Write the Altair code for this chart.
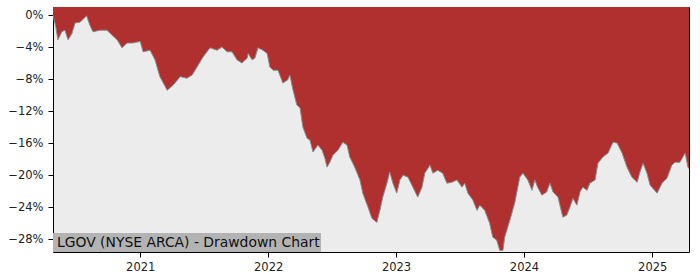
import altair as alt
import pandas as pd

# time positions as decimal years, drawdown in percent
years = [
    2020.320, 2020.344, 2020.359, 2020.388, 2020.414, 2020.438, 2020.469, 2020.492,
    2020.531, 2020.584, 2020.609, 2020.633, 2020.688, 2020.742, 2020.781, 2020.820,
    2020.859, 2020.898, 2020.945, 2021.000, 2021.023, 2021.078, 2021.117, 2021.156,
    2021.211, 2021.258, 2021.313, 2021.367, 2021.406, 2021.445, 2021.492, 2021.547,
    2021.602, 2021.641, 2021.680, 2021.719, 2021.758, 2021.797, 2021.836, 2021.844,
    2021.875, 2021.898, 2021.922, 2021.961, 2021.992, 2022.016, 2022.039, 2022.078,
    2022.117, 2022.156, 2022.172, 2022.195, 2022.227, 2022.250, 2022.273, 2022.305,
    2022.328, 2022.352, 2022.391, 2022.422, 2022.445, 2022.461, 2022.484, 2022.508,
    2022.547, 2022.586, 2022.617, 2022.641, 2022.680, 2022.719, 2022.742, 2022.781,
    2022.813, 2022.852, 2022.875, 2022.898, 2022.930, 2022.953, 2022.977, 2023.008,
    2023.031, 2023.055, 2023.094, 2023.133, 2023.172, 2023.203, 2023.227, 2023.266,
    2023.289, 2023.328, 2023.367, 2023.398, 2023.438, 2023.477, 2023.516, 2023.539,
    2023.563, 2023.602, 2023.633, 2023.656, 2023.695, 2023.734, 2023.758, 2023.789,
    2023.813, 2023.836, 2023.852, 2023.891, 2023.930, 2023.969, 2023.992, 2024.031,
    2024.063, 2024.086, 2024.109, 2024.141, 2024.180, 2024.203, 2024.227, 2024.266,
    2024.305, 2024.336, 2024.359, 2024.383, 2024.414, 2024.438, 2024.461, 2024.492,
    2024.516, 2024.555, 2024.578, 2024.617, 2024.656, 2024.695, 2024.727, 2024.766,
    2024.805, 2024.844, 2024.883, 2024.906, 2024.930, 2024.961, 2024.984, 2025.039,
    2025.078, 2025.117, 2025.156, 2025.180, 2025.219, 2025.258, 2025.281, 2025.289,
]
drawdown_pct = [
    0.0, -1.5, -3.1, -2.1, -1.9, -3.1, -2.3, -1.0,
    -0.9, -0.1, -1.25, -2.1, -1.9, -1.9, -2.5, -3.1,
    -4.1, -3.5, -3.5, -3.3, -4.6, -4.4, -5.6, -7.7,
    -9.4, -8.75, -7.7, -7.9, -7.5, -6.5, -5.25, -4.1,
    -4.4, -4.0, -4.6, -4.6, -5.6, -6.0, -5.4, -4.8,
    -5.6, -5.4, -4.1, -4.4, -4.8, -6.5, -6.9, -6.9,
    -8.5, -8.1, -7.5, -9.4, -11.25, -11.6, -14.0, -15.4,
    -15.6, -17.1, -16.25, -16.9, -17.9, -19.0, -18.4, -17.5,
    -16.9, -15.9, -16.25, -17.75, -19.1, -20.6, -22.25, -24.0,
    -25.4, -25.9, -24.4, -22.75, -21.0, -19.6, -21.0, -22.25,
    -20.6, -20.0, -20.25, -21.5, -22.75, -21.5, -19.75, -18.75,
    -19.75, -19.4, -19.75, -21.0, -20.9, -20.6, -21.5, -21.0,
    -22.25, -23.1, -24.4, -23.75, -24.4, -26.0, -27.75, -28.1,
    -29.4, -29.4, -27.75, -25.6, -23.4, -20.25, -19.75, -20.6,
    -21.9, -20.6, -21.5, -22.5, -22.1, -21.0, -22.1, -22.75,
    -25.25, -25.0, -24.0, -22.9, -23.75, -22.1, -21.5, -21.9,
    -21.0, -20.6, -18.5, -17.75, -17.25, -15.9, -16.0, -17.25,
    -19.0, -20.25, -20.9, -19.6, -18.5, -19.75, -21.25, -22.25,
    -21.0, -20.4, -18.75, -18.4, -18.4, -17.25, -19.0, -19.2,
]
tick_years = [2021, 2022, 2023, 2024, 2025]
y_ticks = [0, -4, -8, -12, -16, -20, -24, -28]
title_text = "LGOV (NYSE ARCA) - Drawdown Chart"


def to_ms(ts):
    return int(ts.value // 10**6)


def year_to_ms(t):
    y = int(t)
    start = pd.Timestamp(year=y, month=1, day=1)
    end = pd.Timestamp(year=y + 1, month=1, day=1)
    return to_ms((start + (end - start) * (t - y)).floor("D"))


df = pd.DataFrame({
    "date": [year_to_ms(t) for t in years],
    "dd": drawdown_pct,
})
df["top"] = 1.0

x_dom = [int(df["date"].min()), int(df["date"].max())]
x_ticks = [to_ms(pd.Timestamp(year=y, month=1, day=1)) for y in tick_years]

x_enc = alt.X(
    "date:T",
    scale=alt.Scale(type="utc", domain=x_dom, nice=False),
    axis=alt.Axis(
        values=x_ticks, format="%Y", formatType="utc", title=None, grid=False,
        domain=False, tickColor="black", tickSize=5, labelPadding=4,
        labelOverlap=False, labelFlush=False,
    ),
)
y_enc = alt.Y(
    "dd:Q",
    scale=alt.Scale(domain=[-29.6, 1.0], nice=False, zero=False),
    axis=alt.Axis(
        values=y_ticks, labelExpr="replace(datum.value + '%', '-', '\u2212')",
        title=None, grid=False, domain=False,
        tickColor="black", tickSize=5, labelPadding=5, labelOverlap=False,
        labelFlush=False,
    ),
)

base = alt.Chart(df)
area = base.mark_area(color="#b03030", opacity=1, clip=True).encode(
    x=x_enc, y=y_enc, y2="top:Q"
)
edge = base.mark_line(color="#8c8c8c", strokeWidth=1, clip=True).encode(
    x=x_enc, y=y_enc
)

one = alt.Data(values=[{"k": 1}])
box = alt.Chart(one).mark_rect(color="#b3b3b3").encode(
    x=alt.value(0), x2=alt.value(268), y=alt.value(226), y2=alt.value(245)
)
label = alt.Chart(one).mark_text(
    align="left", baseline="alphabetic", font="DejaVu Sans", fontSize=13.9,
    color="#111111",
).encode(x=alt.value(4), y=alt.value(240), text=alt.value(title_text))

chart = alt.layer(area, edge, box, label).properties(
    width=636, height=245,
    autosize="none",
    padding={"left": 53, "top": 7, "right": 11, "bottom": 28},
).configure_view(
    fill="#ececec", stroke="black", strokeWidth=1
).configure_axis(
    labelFont="DejaVu Sans", labelFontSize=11.5, labelColor="#222222"
)

chart.save("out.html", embed_options={"renderer": "svg", "actions": False})
